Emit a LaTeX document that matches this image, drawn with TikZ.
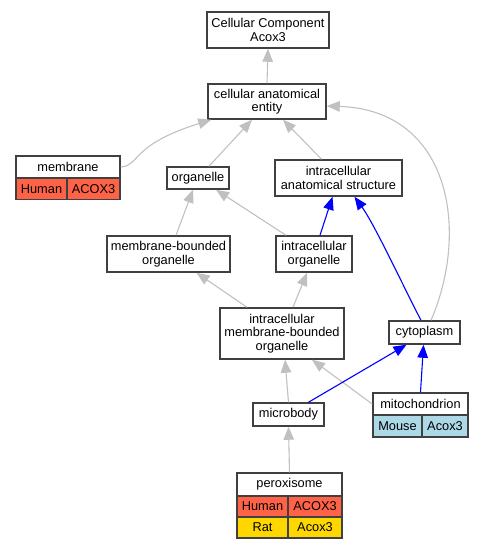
\documentclass[tikz,border=0pt]{standalone}
\usepackage{fontspec}
\setmainfont{Liberation Sans}
\usetikzlibrary{arrows.meta}
\definecolor{edgegray}{HTML}{C0C0C0}
\definecolor{boxline}{HTML}{404040}
\definecolor{human}{HTML}{FF6347}
\definecolor{rat}{HTML}{FFD700}
\definecolor{mouse}{HTML}{ADD8E6}
\tikzset{
	term/.style={draw=boxline,line width=1.5pt,fill=white,align=center,inner sep=0pt,font=\fontsize{12.8}{13.5}\selectfont},
	cell/.style={term,minimum height=21pt},
	isa/.style={draw=edgegray,line width=1.1pt,-{Triangle[length=13pt,width=10.5pt]}},
	partof/.style={isa,draw=blue}
}
\begin{document}
\begin{tikzpicture}[x=1pt,y=-1pt]
		\useasboundingbox (0,0) rectangle (483,549);
		% terms
		\node[term,minimum width=122pt,minimum height=36pt] (cc) at (268,30) {Cellular Component\\Acox3};
		\node[term,minimum width=118pt,minimum height=35pt] (cae) at (267,101.5) {cellular anatomical\\entity};
		\node[term,minimum width=104pt,minimum height=22pt] (memb) at (68,167) {membrane};
		\node[cell,fill=human,minimum width=51pt] (memb-sp) at (41.5,189) {Human};
		\node[cell,fill=human,minimum width=53pt] (memb-gene) at (93.5,189) {ACOX3};
		\node[term,minimum width=62pt,minimum height=22pt] (org) at (198,178) {organelle};
		\node[term,minimum width=127pt,minimum height=36pt] (ias) at (338.5,178) {intracellular\\anatomical structure};
		\node[term,minimum width=123pt,minimum height=36pt] (mbo) at (168.5,254) {membrane-bounded\\organelle};
		\node[term,minimum width=76pt,minimum height=36pt] (io) at (314,254) {intracellular\\organelle};
		\node[term,minimum width=124pt,minimum height=51pt] (imbo) at (282,333.5) {intracellular\\membrane-bounded\\organelle};
		\node[term,minimum width=71pt,minimum height=23pt] (cyto) at (424.5,332.5) {cytoplasm};
		\node[term,minimum width=71pt,minimum height=23pt] (micro) at (288.5,414.5) {microbody};
		\node[term,minimum width=95pt,minimum height=22pt] (mito) at (420.5,404) {mitochondrion};
		\node[cell,fill=mouse,minimum width=49pt,minimum height=22pt] (mito-sp) at (397.5,426) {Mouse};
		\node[cell,fill=mouse,minimum width=46pt,minimum height=22pt] (mito-gene) at (445,426) {Acox3};
		\node[term,minimum width=105pt,minimum height=23pt] (perox) at (289.5,484.5) {peroxisome};
		\node[cell,fill=human,minimum width=51pt] (perox-sp1) at (262.5,506.5) {Human};
		\node[cell,fill=human,minimum width=54pt] (perox-gene1) at (315,506.5) {ACOX3};
		\node[cell,fill=rat,minimum width=51pt] (perox-sp2) at (262.5,527.5) {Rat};
		\node[cell,fill=rat,minimum width=54pt] (perox-gene2) at (315,527.5) {Acox3};
		% is_a
		\draw[isa] (cae.north) -- (cc.south);
		\draw[isa] (memb.east) .. controls (140,166) and (130,145) .. ([xshift=4pt]cae.south west);
		\draw[isa] ([xshift=11pt]org.north) -- ([xshift=-15pt]cae.south);
		\draw[isa] ([xshift=-17pt]ias.north) -- ([xshift=16pt]cae.south);
		\draw[isa] ([xshift=6.5pt]cyto.north) .. controls (470,230) and (450,110) .. ([yshift=-4.5pt]cae.east);
		\draw[isa] ([xshift=7.5pt]mbo.north) -- ([xshift=-5pt]org.south);
		\draw[isa] ([xshift=-28pt]io.north) -- ([xshift=18pt]org.south);
		\draw[isa] ([xshift=-35pt]imbo.north) -- ([xshift=28pt]mbo.south);
		\draw[isa] ([xshift=11pt]imbo.north) -- ([xshift=-7pt]io.south);
		\draw[isa] (micro.north) -- ([xshift=3pt]imbo.south);
		\draw[isa] (mito.west) -- ([xshift=30pt]imbo.south);
		\draw[isa] (perox.north) -- (micro.south);
		% part_of
		\draw[partof] ([xshift=6pt]io.north) -- ([xshift=-6pt]ias.south);
		\draw[partof] ([xshift=-3.5pt]cyto.north) .. controls (405,290) and (375,225) .. ([xshift=16pt]ias.south);
		\draw[partof] ([xshift=20pt]micro.north) -- ([xshift=-18pt]cyto.south);
		\draw[partof] (mito.north) -- ([xshift=-1pt]cyto.south);
	\end{tikzpicture}
\end{document}
